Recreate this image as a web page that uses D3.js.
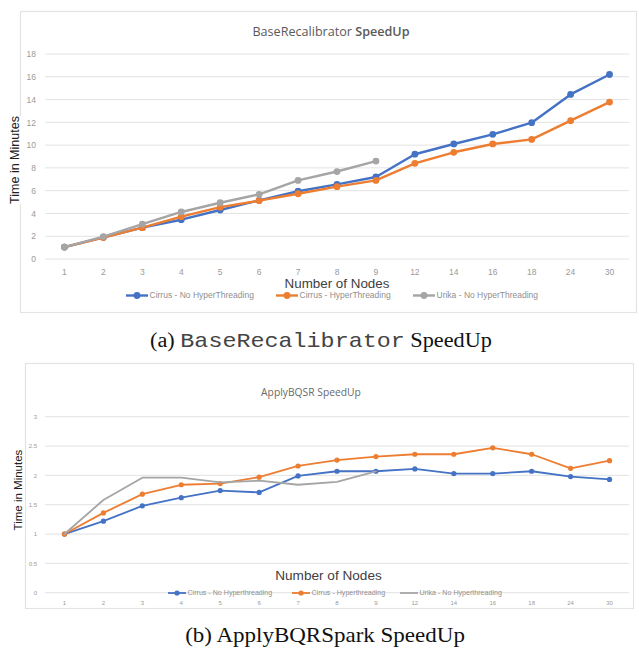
<!DOCTYPE html>
<html><head><meta charset="utf-8">
<script src="https://cdn.jsdelivr.net/npm/d3@7"></script>
<style>
html,body{margin:0;padding:0;background:#fff;}
svg{display:block;}
</style></head>
<body>
<svg id="c" width="639" height="652"></svg>
<script>
// ---- data ----
const nodes = ["1","2","3","4","5","6","7","8","9","12","14","16","18","24","30"];
const seriesNames = ["Cirrus - No HyperThreading","Cirrus - HyperThreading","Urika - No HyperThreading"];
const seriesNamesB = ["Cirrus - No Hyperthreading","Cirrus - Hyperthreading","Urika - No Hyperthreading"];
const baseCirrusNoHT = [1.05,1.9,2.75,3.45,4.3,5.15,5.95,6.55,7.2,9.2,10.1,10.95,11.97,14.45,16.2];
const baseCirrusHT   = [1.05,1.88,2.75,3.72,4.55,5.12,5.73,6.35,6.9,8.4,9.37,10.1,10.5,12.15,13.78];
const baseUrika      = [1.05,1.97,3.07,4.13,4.94,5.68,6.9,7.68,8.6];
const yTicksA = [0,2,4,6,8,10,12,14,16,18];
const bqsrCirrusNoHT = [1.0,1.22,1.48,1.62,1.74,1.71,1.99,2.07,2.07,2.11,2.03,2.03,2.07,1.98,1.93];
const bqsrCirrusHT   = [1.0,1.36,1.68,1.84,1.86,1.97,2.16,2.26,2.32,2.36,2.36,2.47,2.36,2.12,2.25];
const bqsrUrika      = [1.0,1.58,1.96,1.96,1.88,1.91,1.84,1.89,2.07];
const yTicksB = [0,0.5,1,1.5,2,2.5,3];
const colors = ["#4472C4","#ED7D31","#A5A5A5"];

const svg = d3.select("#c");
const x = d3.scaleBand().domain(nodes).range([45,629]).padding(0);
const cx = d => x(d) + x.bandwidth()/2;

function chart(o){
  const g = svg.append("g");
  g.append("rect").attr("x",o.box[0]+0.5).attr("y",o.box[1]+0.5)
    .attr("width",o.box[2]-o.box[0]).attr("height",o.box[3]-o.box[1])
    .attr("fill","#fff").attr("stroke","#e3e3e3").attr("stroke-width",1.2);
  const y = d3.scaleLinear().domain(o.ydom).range(o.yrange);
  g.append("g").selectAll("line").data(o.yticks).join("line")
    .attr("x1",45).attr("x2",629).attr("y1",d=>y(d)).attr("y2",d=>y(d))
    .attr("stroke","#e2e2e2").attr("stroke-width",1);
  const ya = d3.axisLeft(y).tickValues(o.yticks).tickSize(0).tickPadding(0).tickFormat(d=>String(d));
  const yg = g.append("g").attr("transform",`translate(${o.ytx},0)`).call(ya);
  yg.select(".domain").remove();
  yg.selectAll("text").attr("fill","#9a9a9a").style("font-family","'Liberation Sans', Arial, sans-serif")
    .style("font-size",o.ytfs+"px").attr("text-anchor","end");
  const xa = d3.axisBottom(x).tickSize(0).tickPadding(0);
  const xg = g.append("g").attr("transform",`translate(0,${o.xty})`).call(xa);
  xg.select(".domain").remove();
  xg.selectAll("text").attr("fill","#9a9a9a").style("font-family","'Liberation Sans', Arial, sans-serif")
    .style("font-size",o.xtfs+"px").attr("dy","0");
  const t = g.append("text").attr("x",o.titleX).attr("y",o.titleY).attr("text-anchor","middle")
    .style("font-family","'Open Sans', 'Liberation Sans', sans-serif").style("font-size",o.titleFs+"px").attr("fill",o.titleColor);
  t.append("tspan").text(o.title1);
  t.append("tspan").attr("font-weight",o.boldSpeed?"600":"normal").text(" SpeedUp");
  const line = d3.line().x((d,i)=>cx(nodes[i])).y(d=>y(d));
  o.series.forEach((s,k)=>{
    g.append("path").datum(s).attr("d",line).attr("fill","none")
      .attr("stroke",colors[k]).attr("stroke-width",o.lw).attr("stroke-linejoin","round").attr("stroke-linecap","round");
    if(o.markers[k]){
      g.append("g").selectAll("circle").data(s).join("circle")
        .attr("cx",(d,i)=>cx(nodes[i])).attr("cy",d=>y(d)).attr("r",o.mr).attr("fill",colors[k]);
    }
  });
  const xt = g.append("text").attr("x",o.xTitleX).attr("y",o.xTitleY).attr("text-anchor","middle")
    .style("font-family","'Liberation Sans', Arial, sans-serif").style("font-size",o.xTitleFs+"px").attr("fill","#404040").text("Number of Nodes");
  const bb = xt.node().getBBox();
  g.insert("rect", function(){return xt.node();}).attr("x",bb.x-2).attr("y",bb.y+3).attr("width",bb.width+4).attr("height",bb.height-3).attr("fill","#fff");
  const yt = g.append("text").attr("transform",`translate(${o.yTitleX},${o.yTitleY}) rotate(-90)`).attr("text-anchor","middle")
    .style("font-family","'Liberation Sans', Arial, sans-serif").style("font-size",o.yTitleFs+"px").attr("fill","#202020").text("Time in Minutes");
  const yb = yt.node().getBBox();
  g.insert("rect", function(){return yt.node();})
    .attr("x",o.yTitleX-yb.height*0.75).attr("y",o.yTitleY-yb.width/2).attr("width",yb.height).attr("height",yb.width).attr("fill","#fff");
  o.legend.forEach((L,k)=>{
    const lg = g.append("g");
    lg.append("line").attr("x1",L[0]).attr("x2",L[0]+o.legLen).attr("y1",o.legY).attr("y2",o.legY)
      .attr("stroke",colors[k]).attr("stroke-width",o.lw);
    if(o.markers[k]) lg.append("circle").attr("cx",L[0]+o.legLen/2).attr("cy",o.legY).attr("r",o.mr).attr("fill",colors[k]);
    lg.append("text").attr("x",L[0]+o.legLen+1.5).attr("y",o.legY).attr("dy","0.35em")
      .style("font-family","'Liberation Sans', Arial, sans-serif").style("font-size",o.legFs+"px").attr("fill","#8f8f8f").text(o.legNames[k]);
  });
}

chart({
  box:[20,11,636,312], ydom:[0,18], yrange:[259,54], yticks:yTicksA, ytx:36, ytfs:8.5,
  xty:274.5, xtfs:8.5, titleX:331, titleY:36, titleFs:12.6, titleColor:"#5a5a5a", title1:"BaseRecalibrator", boldSpeed:true,
  series:[baseCirrusNoHT,baseCirrusHT,baseUrika], markers:[true,true,true], lw:2.4, mr:3.4,
  xTitleX:337, xTitleY:288, xTitleFs:13.4, yTitleX:19, yTitleY:160, yTitleFs:12.5,
  legend:[[126],[276],[413]], legLen:22, legY:295.5, legFs:8.5, legNames:seriesNames
});

chart({
  box:[25,363,633,608], ydom:[0,3], yrange:[592.7,416.7], yticks:yTicksB, ytx:37, ytfs:6,
  xty:605, xtfs:6, titleX:311, titleY:396, titleFs:10.3, titleColor:"#6a6a6a", title1:"ApplyBQSR", boldSpeed:false,
  series:[bqsrCirrusNoHT,bqsrCirrusHT,bqsrUrika], markers:[true,true,false], lw:1.8, mr:2.6,
  xTitleX:328.5, xTitleY:580, xTitleFs:13.6, yTitleX:22, yTitleY:490, yTitleFs:11.5,
  legend:[[168],[292],[400]], legLen:18, legY:593, legFs:7.1, legNames:seriesNamesB
});

// captions
function fitCaption(sel, cxp, y, w){
  const b = sel.node().getBBox();
  const s = w / b.width;
  sel.attr("x",0).attr("y",0).attr("transform",`translate(${cxp},${y}) scale(${s},1)`);
}
const capA = svg.append("text").attr("text-anchor","middle")
  .style("font-family","'Liberation Serif', 'Times New Roman', serif").style("font-size","20px").attr("fill","#111");
capA.append("tspan").text("(a) ");
capA.append("tspan").style("font-family","'Liberation Mono', 'Courier New', monospace").style("font-size","21px").attr("fill","#444").text("BaseRecalibrator");
capA.append("tspan").text(" SpeedUp");
fitCaption(capA, 321, 347, 342);
const capB = svg.append("text").attr("text-anchor","middle")
  .style("font-family","'Liberation Serif', 'Times New Roman', serif").style("font-size","21.5px").attr("fill","#111")
  .text("(b) ApplyBQRSpark SpeedUp");
fitCaption(capB, 325, 642, 280);
</script>
</body></html>
